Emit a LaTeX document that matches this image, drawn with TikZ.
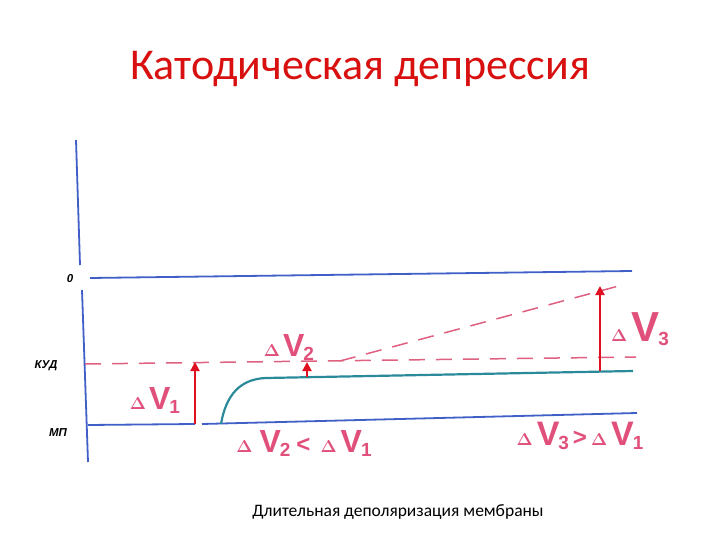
\documentclass[tikz,border=0pt]{standalone}
\usepackage{amsmath,bm}
\usepackage{fontspec}
\setmainfont{Carlito}
\newfontfamily\lblfont{Liberation Sans}
\usetikzlibrary{arrows.meta}
\definecolor{titlered}{HTML}{D81010}
\definecolor{axisblue}{HTML}{4060C8}
\definecolor{curveteal}{HTML}{2A8A9A}
\definecolor{dashpink}{HTML}{E06080}
\definecolor{lblpink}{HTML}{E0507A}
\definecolor{arrowred}{HTML}{E01020}
% #1 subscript, #2 gap, #3 V size
\newcommand{\dV}[3]{{\fontsize{18}{18}\selectfont$\bm{\Delta}$}\hspace{#2}{\fontsize{#3}{#3}\selectfont\bfseries V}\hspace{-1pt}{\fontsize{19}{19}\selectfont\bfseries\raisebox{-4pt}{#1}}}
\begin{document}
\begin{tikzpicture}[x=1pt,y=-1pt,
  axisline/.style={draw=axisblue,line width=1.8pt},
  curveline/.style={draw=curveteal,line width=2.2pt},
  dashline/.style={draw=dashpink,line width=1.5pt,dash pattern=on 16pt off 11pt},
  redarrow/.style={draw=arrowred,line width=2pt,-{Triangle[length=9pt,width=9pt]}},
  axlbl/.style={font=\lblfont\bfseries\itshape\fontsize{11.5}{12}\selectfont,text=black},
  dvlbl/.style={font=\lblfont,text=lblpink,inner sep=0pt}]
\useasboundingbox (0,0) rectangle (720,540);
\fill[white] (0,0) rectangle (720,540);
% title
\node (title) at (360,69) {\fontsize{44}{46}\selectfont\color{titlered}Катодическая депрессия};
% axis
\coordinate (axtop) at (76,140);
\coordinate (axmid) at (80,265);
\coordinate (axmid2) at (82,290);
\coordinate (axbot) at (88,462);
\draw[axisline] (axtop) -- (axmid);
\draw[axisline] (axmid2) -- (axbot);
% zero line
\coordinate (z0) at (90,278);
\coordinate (z1) at (632,271);
\draw[axisline] (z0) -- (z1);
\node[axlbl] (lzero) at (70,279) {0};
% KUD
\coordinate (k0) at (85,364);
\coordinate (k1) at (636,357);
\draw[dashline] (k0) -- (k1);
\node[axlbl] (lkud) at (46,366) {КУД};
% slanted
\coordinate (s0) at (340,361);
\coordinate (s1) at (626,284);
\draw[dashline] (s0) -- (s1);
% MP
\coordinate (m0) at (88,425);
\coordinate (m1) at (195,424);
\coordinate (m2) at (202,424);
\coordinate (m3) at (637,413);
\draw[axisline] (m0) -- (m1);
\draw[axisline] (m2) -- (m3);
\node[axlbl] (lmp) at (58,433) {МП};
% curve
\coordinate (c0) at (221,424);
\coordinate (c1) at (266,378);
\coordinate (c2) at (633,371);
\draw[curveline] (c0) .. controls (226,395) and (240,379) .. (c1) -- (c2);
% arrows
\coordinate (a1s) at (195,424);
\coordinate (a1e) at (195,362);
\draw[redarrow] (a1s) -- (a1e);
\coordinate (a2s) at (307,377);
\coordinate (a2e) at (307,362);
\draw[redarrow] (a2s) -- (a2e);
\coordinate (a3s) at (600,371);
\coordinate (a3e) at (600,286);
\draw[redarrow] (a3s) -- (a3e);
% labels
\node[dvlbl] (l1) at (155,400) {\dV{1}{3pt}{32}};
\node[dvlbl] (l2) at (289,347) {\dV{2}{3pt}{32}};
\node[dvlbl] (l3) at (640,329) {\dV{3}{4pt}{42}};
\node[dvlbl] (l21) at (304,443) {\dV{2}{7pt}{32}\hspace{6pt}{\fontsize{24}{24}\selectfont\bfseries<}\hspace{10pt}\dV{1}{4pt}{32}};
\node[dvlbl] (l31) at (580,436) {\dV{3}{4pt}{34}\hspace{4pt}{\fontsize{24}{24}\selectfont\bfseries>}\hspace{4pt}\dV{1}{4pt}{34}};
% caption
\node (cap) at (398,512) {\fontsize{17.5}{18}\selectfont Длительная деполяризация мембраны};
\end{tikzpicture}
\end{document}
